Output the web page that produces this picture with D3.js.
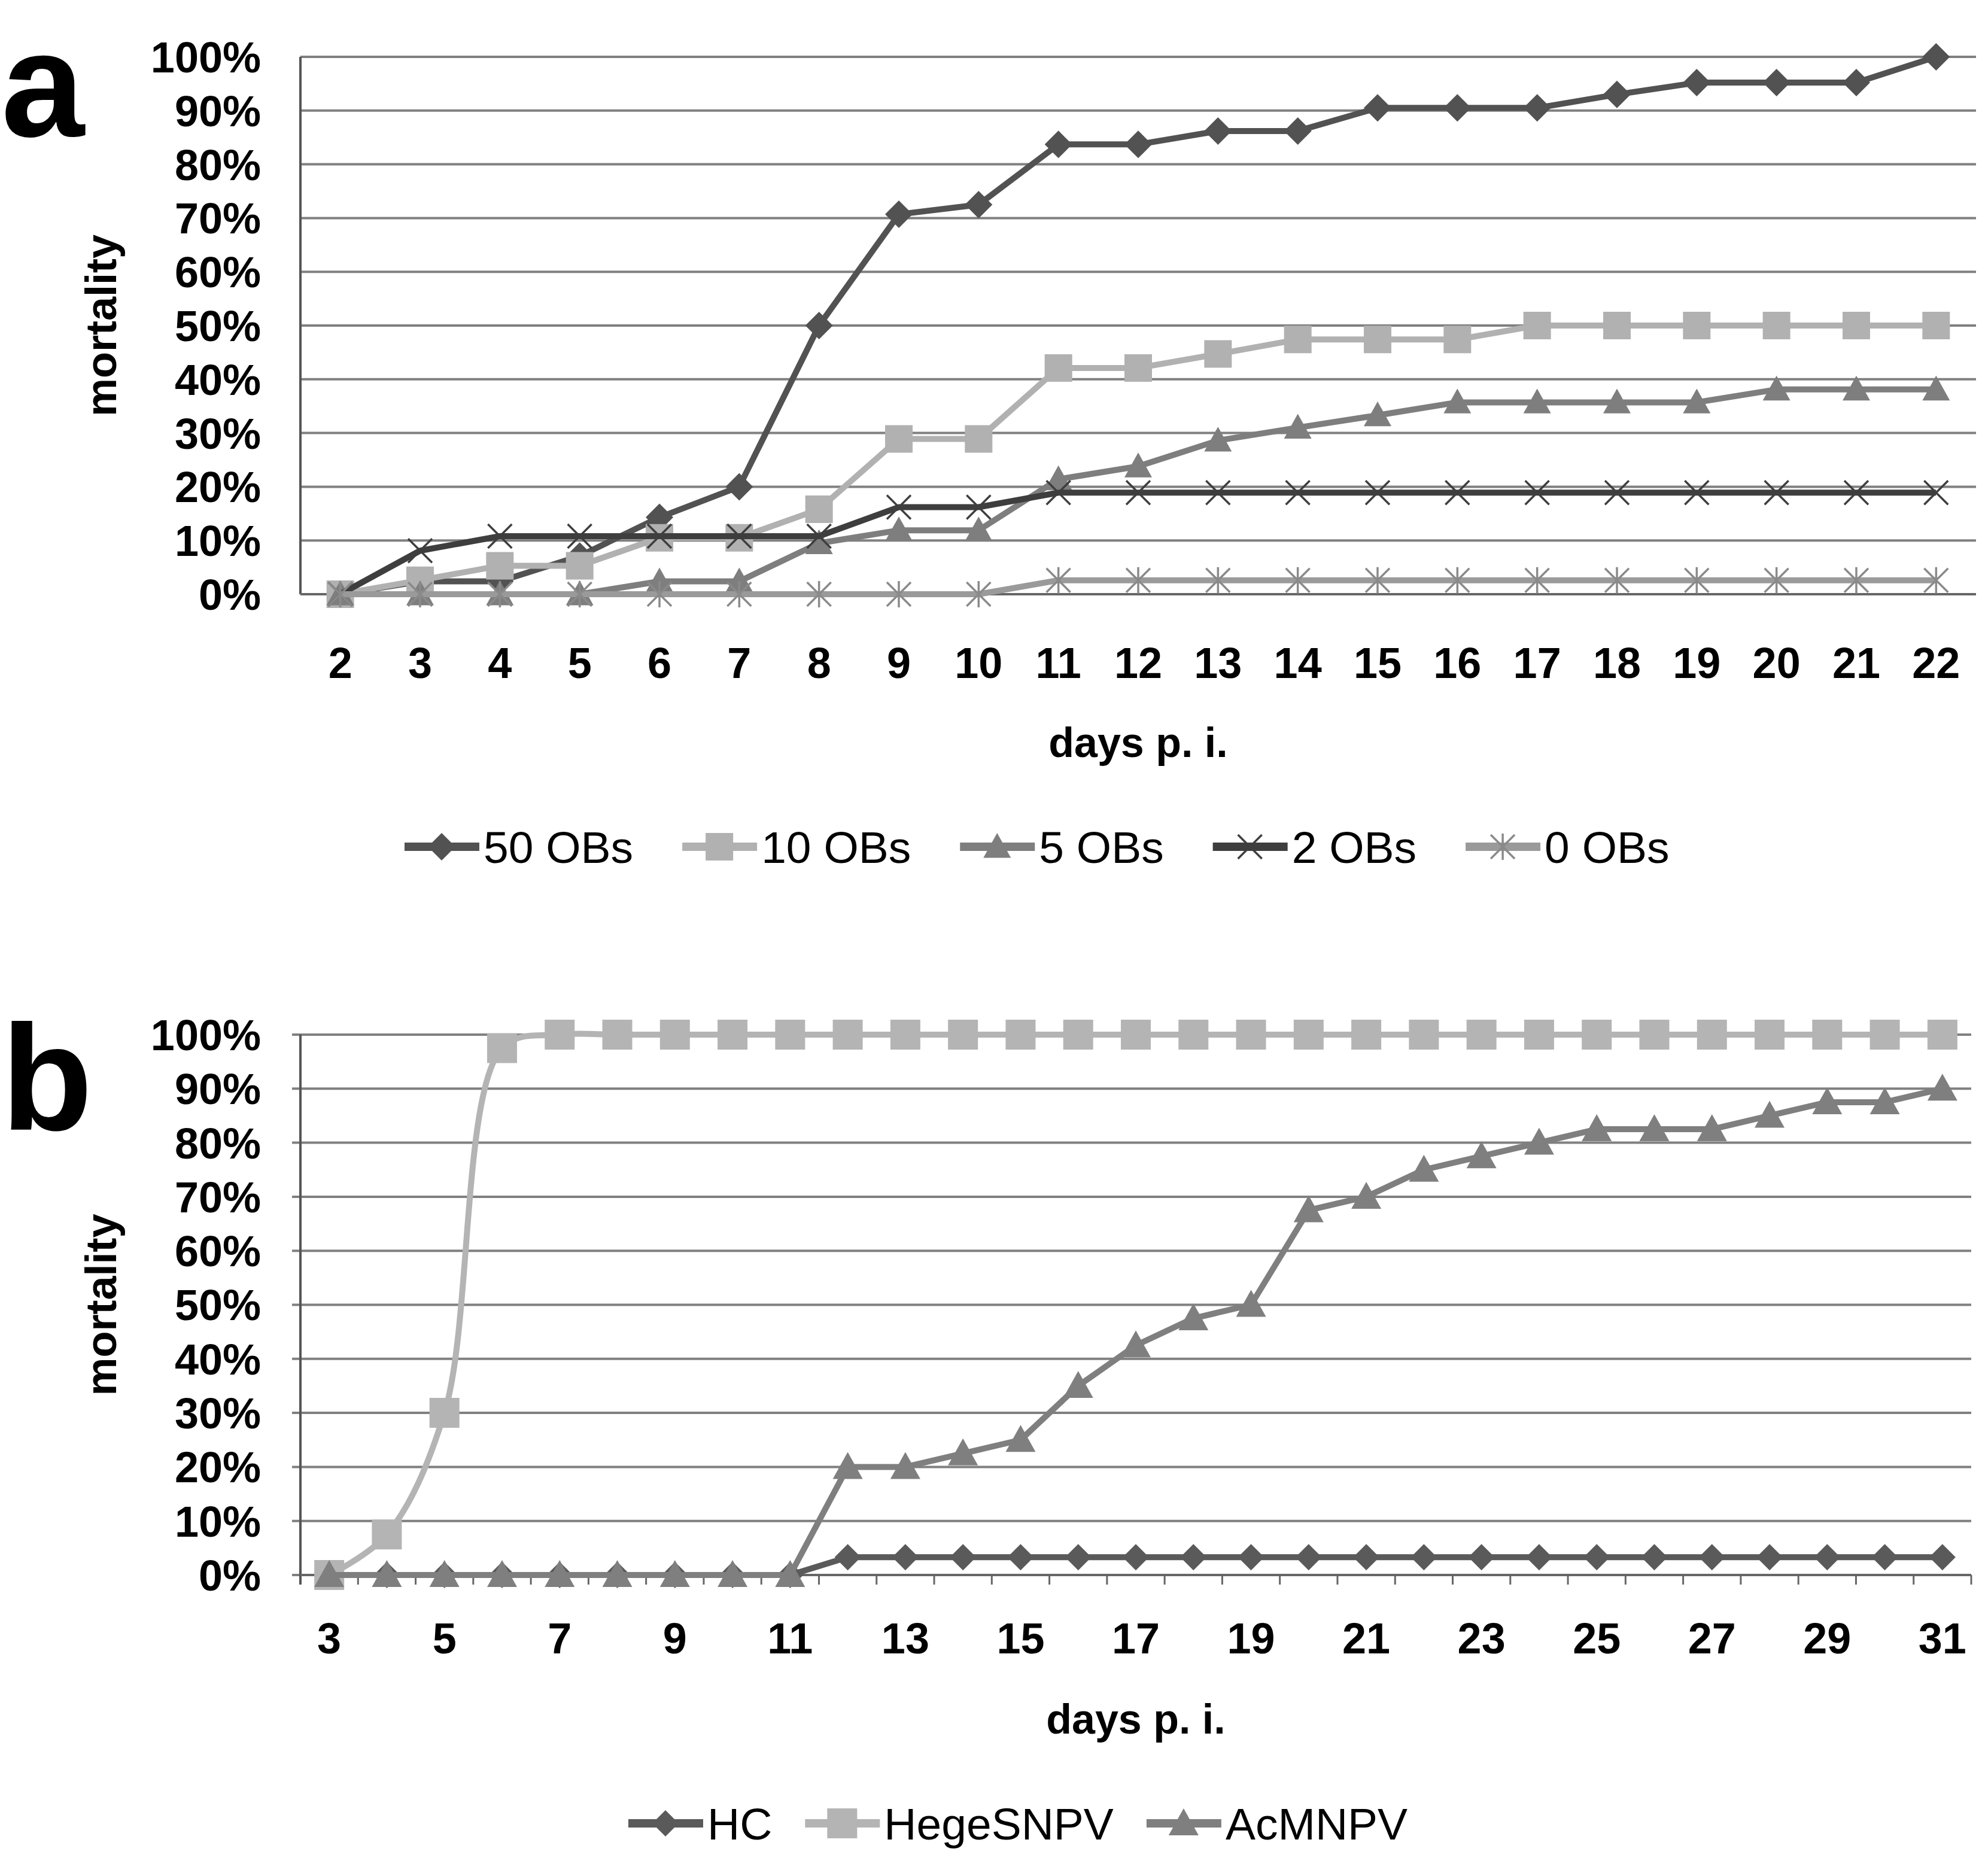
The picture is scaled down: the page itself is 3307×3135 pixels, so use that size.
<!DOCTYPE html>
<html lang="en">
<head>
<meta charset="UTF-8">
<title>mortality</title>
<style>
  body { margin: 0; background: #fff; }
  svg { display: block; }
  text { font-family: "Liberation Sans", Arial, sans-serif; fill: #000; }
</style>
</head>
<body>
<div id="chart"></div>
<script src="https://d3js.org/d3.v7.min.js"></script>
<script>
// ---- data, panel a (days p. i. 2..22, mortality %) ----
var daysA = [2,3,4,5,6,7,8,9,10,11,12,13,14,15,16,17,18,19,20,21,22];
var obs50 = [0,2.4,2.4,7.1,14.3,20,50,70.7,72.5,83.7,83.7,86.2,86.2,90.5,90.5,90.5,93,95.2,95.2,95.2,100];
var obs10 = [0,2.6,5.3,5.3,10.5,10.5,15.8,28.9,28.9,42.1,42.1,44.7,47.4,47.4,47.4,50,50,50,50,50,50];
var obs5  = [0,0,0,0,2.4,2.4,9.5,11.9,11.9,21.4,23.8,28.6,31,33.3,35.7,35.7,35.7,35.7,38.1,38.1,38.1];
var obs2  = [0,8.1,10.8,10.8,10.8,10.8,10.8,16.2,16.2,18.9,18.9,18.9,18.9,18.9,18.9,18.9,18.9,18.9,18.9,18.9,18.9];
var obs0  = [0,0,0,0,0,0,0,0,0,2.6,2.6,2.6,2.6,2.6,2.6,2.6,2.6,2.6,2.6,2.6,2.6];
var namesA = ["50 OBs","10 OBs","5 OBs","2 OBs","0 OBs"];

// ---- data, panel b (days p. i. 3..31) ----
var daysB = [3,4,5,6,7,8,9,10,11,12,13,14,15,16,17,18,19,20,21,22,23,24,25,26,27,28,29,30,31];
var hc   = [0,0,0,0,0,0,0,0,0,3.3,3.3,3.3,3.3,3.3,3.3,3.3,3.3,3.3,3.3,3.3,3.3,3.3,3.3,3.3,3.3,3.3,3.3,3.3,3.3];
var hege = [0,7.5,30,97.5,100,100,100,100,100,100,100,100,100,100,100,100,100,100,100,100,100,100,100,100,100,100,100,100,100];
var ac   = [0,0,0,0,0,0,0,0,0,20,20,22.5,25,35,42.5,47.5,50,67.5,70,75,77.5,80,82.5,82.5,82.5,85,87.5,87.5,90];
var namesB = ["HC","HegeSNPV","AcMNPV"];
var yTicks = [0,10,20,30,40,50,60,70,80,90,100];

var W = 3307, H = 3135;
var svg = d3.select("#chart").append("svg")
    .attr("width", W)
    .attr("height", H);

// marker shapes (s = half size)
function marker(shape, s) {
  if (shape == "diamond") return "M0," + (-s) + "L" + s + ",0L0," + s + "L" + (-s) + ",0Z";
  if (shape == "square") return "M" + (-s) + "," + (-s) + "h" + 2*s + "v" + 2*s + "h" + (-2*s) + "Z";
  if (shape == "triangle") return "M0," + (-s) + "L" + s + "," + (s*0.8) + "L" + (-s) + "," + (s*0.8) + "Z";
  if (shape == "x") return "M" + (-s) + "," + (-s) + "L" + s + "," + s + "M" + s + "," + (-s) + "L" + (-s) + "," + s;
  if (shape == "asterisk") return "M" + (-s) + "," + (-s) + "L" + s + "," + s + "M" + s + "," + (-s) + "L" + (-s) + "," + s + "M0," + (-s*1.1) + "L0," + (s*1.1);
}
function drawMarker(g, st, x, y) {
  var filled = st.shape != "x" && st.shape != "asterisk";
  g.append("path")
    .attr("d", marker(st.shape, st.size))
    .attr("transform", "translate(" + x + "," + y + ")")
    .attr("fill", filled ? st.color : "none")
    .attr("stroke", filled ? "none" : st.mcolor)
    .attr("stroke-width", filled ? 0 : 3.5);
}

function panel(cfg) {
  var g = svg.append("g");
  var x = d3.scaleBand().domain(cfg.days).range([cfg.left, cfg.right]).padding(0);
  var y = d3.scaleLinear().domain([0, 100]).range([cfg.bottom, cfg.top]);
  var cx = function(d) { return x(d) + x.bandwidth() / 2; };

  // gridlines
  g.selectAll(".grid").data(yTicks).enter().append("line")
    .attr("x1", cfg.left - cfg.ytick).attr("x2", cfg.right)
    .attr("y1", function(d) { return y(d); }).attr("y2", function(d) { return y(d); })
    .attr("stroke", "#808080").attr("stroke-width", 4);

  // y labels
  g.selectAll(".yl").data(yTicks).enter().append("text")
    .attr("x", 436).attr("y", function(d) { return y(d); })
    .attr("dy", "0.36em").attr("text-anchor", "end")
    .attr("font-size", 72).attr("font-weight", "bold")
    .text(function(d) { return d + "%"; });

  // axes lines
  g.append("line").attr("x1", cfg.left).attr("x2", cfg.left)
    .attr("y1", cfg.top).attr("y2", cfg.bottom + cfg.xtick)
    .attr("stroke", "#555").attr("stroke-width", 4);
  g.append("line").attr("x1", cfg.left).attr("x2", cfg.right)
    .attr("y1", cfg.bottom).attr("y2", cfg.bottom)
    .attr("stroke", "#666").attr("stroke-width", 4);
  if (cfg.xtick > 0) {
    var edges = cfg.days.map(function(d) { return x(d) + x.bandwidth(); });
    g.selectAll(".xt").data(edges).enter().append("line")
      .attr("x1", function(d) { return d; }).attr("x2", function(d) { return d; })
      .attr("y1", cfg.bottom).attr("y2", cfg.bottom + cfg.xtick)
      .attr("stroke", "#666").attr("stroke-width", 3);
  }

  // x labels
  g.selectAll(".xl").data(cfg.labels).enter().append("text")
    .attr("x", cx).attr("y", cfg.bottom + cfg.xlab)
    .attr("dy", "0.36em").attr("text-anchor", "middle")
    .attr("font-size", 72).attr("font-weight", "bold")
    .text(function(d) { return d; });

  // axis titles
  g.append("text").attr("x", (cfg.left + cfg.right) / 2).attr("y", cfg.bottom + cfg.xtitle)
    .attr("dy", "0.36em").attr("text-anchor", "middle")
    .attr("font-size", 70).attr("font-weight", "bold").text("days p. i.");
  g.append("text")
    .attr("transform", "translate(168," + (cfg.top + cfg.bottom) / 2 + ") rotate(-90)")
    .attr("dy", "0.36em").attr("text-anchor", "middle")
    .attr("font-size", 72).attr("font-weight", "bold").text("mortality");

  // panel letter
  g.append("text").attr("x", 2).attr("y", cfg.letterY)
    .attr("font-size", 250).attr("font-weight", "bold")
    .text(cfg.letter);

  // series
  cfg.series.forEach(function(s) {
    var pts = cfg.days.map(function(d, i) { return [cx(d), y(s.values[i])]; });
    var line = d3.line().curve(s.smooth ? d3.curveCatmullRom.alpha(0.5) : d3.curveLinear);
    g.append("path").attr("d", line(pts))
      .attr("fill", "none").attr("stroke", s.color)
      .attr("stroke-width", 10).attr("stroke-linejoin", "round");
    pts.forEach(function(p) { drawMarker(g, s, p[0], p[1]); });
  });

  // legend
  var lg = g.append("g");
  var lx = cfg.legendX;
  cfg.series.forEach(function(s) {
    lg.append("line").attr("x1", lx).attr("x2", lx + 125)
      .attr("y1", cfg.legendY).attr("y2", cfg.legendY)
      .attr("stroke", s.color).attr("stroke-width", 14);
    drawMarker(lg, s, lx + 62, cfg.legendY);
    var t = lg.append("text").attr("x", lx + 132).attr("y", cfg.legendY)
      .attr("dy", "0.36em").attr("font-size", 75)
      .text(s.name);
    lx += 132 + t.node().getComputedTextLength() + cfg.legendGap;
  });
}

panel({
  letter: "a", letterY: 228,
  days: daysA, labels: daysA,
  left: 502, right: 3302, top: 95, bottom: 993,
  ytick: 0, xtick: 0, xlab: 114, xtitle: 247,
  legendX: 676, legendY: 1415, legendGap: 82,
  series: [
    { name: namesA[0], values: obs50, color: "#525252", shape: "diamond", size: 23 },
    { name: namesA[1], values: obs10, color: "#b1b1b1", shape: "square", size: 23 },
    { name: namesA[2], values: obs5,  color: "#7e7e7e", shape: "triangle", size: 23 },
    { name: namesA[3], values: obs2,  color: "#3e3e3e", mcolor: "#3e3e3e", shape: "x", size: 20 },
    { name: namesA[4], values: obs0,  color: "#9a9a9a", mcolor: "#8a8a8a", shape: "asterisk", size: 20 }
  ]
});

panel({
  letter: "b", letterY: 1888,
  days: daysB, labels: daysB.filter(function(d, i) { return i % 2 == 0; }),
  left: 502, right: 3294, top: 1729, bottom: 2632,
  ytick: 14, xtick: 16, xlab: 105, xtitle: 240,
  legendX: 1050, legendY: 3047, legendGap: 55,
  series: [
    { name: namesB[0], values: hc,   color: "#5a5a5a", shape: "diamond", size: 22 },
    { name: namesB[1], values: hege, color: "#b4b4b4", shape: "square", size: 25, smooth: true },
    { name: namesB[2], values: ac,   color: "#7f7f7f", shape: "triangle", size: 25 }
  ]
});
</script>
</body>
</html>
